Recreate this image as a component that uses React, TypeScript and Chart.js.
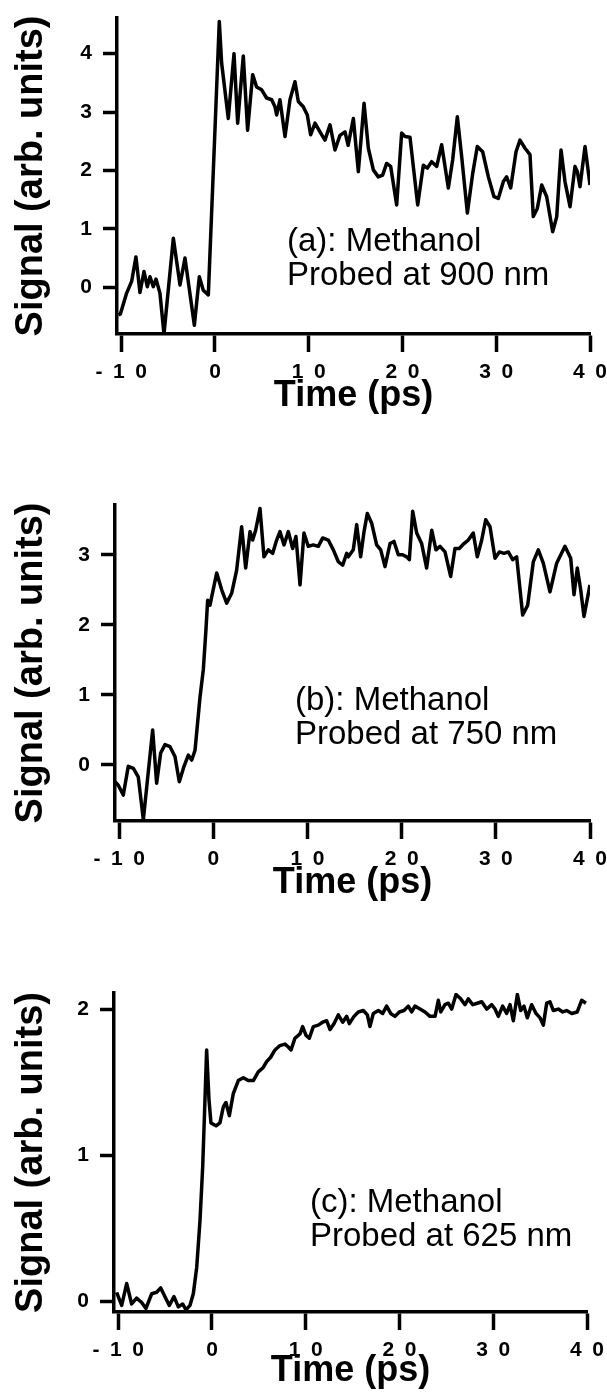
import React, { useEffect, useRef } from 'react';
import { Chart, registerables } from 'chart.js';

Chart.register(...registerables);

const FONT = '"Liberation Sans", Arial, Helvetica, sans-serif';

// ---------- Panel (a): probed at 900 nm ----------
const timeA = [
  -10.31, -10.1, -9.42, -8.89, -8.43, -8.0, -7.57, -7.22, -6.93, -6.58, -6.29, -5.87, -5.44, -4.44, -3.73,
  -3.2, -2.2, -1.67, -1.25, -0.71, 0.05, 0.46, 0.71, 1.42, 2.03, 2.42, 3.02, 3.48, 4.02, 4.44, 4.98, 5.51,
  6.05, 6.4, 6.58, 6.93, 7.47, 8.0, 8.53, 8.89, 9.42, 9.85, 10.2, 10.67, 11.2, 11.73, 12.27, 12.8, 13.33,
  13.87, 14.2, 14.76, 15.29, 15.9, 16.36, 16.89, 17.42, 17.88, 18.31, 18.74, 19.38, 19.91, 20.27, 20.8,
  21.62, 22.22, 22.65, 23.11, 23.65, 24.18, 24.89, 25.35, 25.85, 26.31, 26.92, 27.49, 27.98, 28.55, 29.16,
  29.76, 30.22, 30.76, 31.11, 31.54, 32.11, 32.53, 33.07, 33.6, 33.95, 34.38, 34.85, 35.38, 36.02, 36.45,
  36.91, 37.33, 37.87, 38.4, 38.65, 38.93, 39.47, 40.0,
];
const signalA = [
  -0.47, -0.46, -0.1, 0.1, 0.52, -0.09, 0.27, 0.01, 0.18, 0.01, 0.14, -0.1, -0.8, 0.84, 0.04,
  0.5, -0.65, 0.18, -0.05, -0.13, 2.9, 4.55, 3.84, 2.89, 4.0, 2.81, 3.96, 2.69, 3.64, 3.43, 3.38, 3.24,
  3.21, 3.09, 2.95, 3.21, 2.58, 3.21, 3.52, 3.18, 3.09, 2.95, 2.61, 2.81, 2.66, 2.52, 2.78, 2.35, 2.6,
  2.66, 2.43, 2.89, 1.98, 3.15, 2.38, 2.01, 1.89, 1.92, 2.12, 2.07, 1.41, 2.64, 2.58, 2.57,
  1.41, 2.09, 2.04, 2.15, 2.07, 2.44, 1.7, 2.18, 2.92, 2.24, 1.27, 1.95, 2.41, 2.32, 1.89,
  1.55, 1.52, 1.81, 1.89, 1.7, 2.32, 2.52, 2.38, 2.27, 1.21, 1.35, 1.75, 1.55, 0.95, 1.21,
  2.35, 1.81, 1.38, 2.07, 1.98, 1.72, 2.41, 1.75,
];

// ---------- Panel (b): probed at 750 nm ----------
const timeB = [
  -10.45, -10.1, -9.57, -9.04, -8.5, -7.98, -7.44, -6.45, -6.03, -5.6, -5.14, -4.61, -4.08, -3.62, -3.12,
  -2.66, -2.3, -1.95, -1.42, -1.07, -0.79, -0.61, -0.36, 0.35, 0.88, 1.41, 1.94, 2.47, 3.0, 3.43, 3.89,
  4.17, 4.49, 4.95, 5.37, 5.83, 6.3, 6.72, 7.07, 7.5, 7.96, 8.42, 8.77, 9.2, 9.62, 10.08, 10.61, 11.14,
  11.61, 12.2, 12.74, 13.27, 13.73, 14.16, 14.33, 14.86, 15.22, 15.64, 16.0, 16.35, 16.81, 17.34, 17.77,
  18.23, 18.76, 19.18, 19.64, 20.1, 20.53, 20.81, 21.17, 21.59, 22.12, 22.65, 23.19, 23.64, 24.07, 24.6,
  25.2, 25.66, 26.12, 26.62, 27.07, 27.6, 28.03, 28.5, 28.92, 29.38, 29.91, 30.37, 30.87, 31.32, 31.79,
  32.21, 32.85, 33.38, 33.98, 34.51, 35.04, 35.75, 36.46, 37.34, 37.95, 38.3, 38.65, 39.01, 39.36, 40.0,
];
const signalB = [
  -0.24, -0.29, -0.43, -0.02, -0.05, -0.17, -0.78, 0.5, -0.26, 0.17, 0.29, 0.26, 0.12, -0.24, -0.02,
  0.14, 0.07, 0.21, 0.97, 1.36, 1.93, 2.35, 2.28, 2.74, 2.5, 2.31, 2.45, 2.78, 3.4, 2.81, 3.33,
  3.21, 3.35, 3.66, 2.97, 3.07, 3.02, 3.21, 3.33, 3.14, 3.33, 3.09, 3.26, 2.57, 3.31, 3.12, 3.14, 3.12,
  3.24, 3.21, 3.07, 2.9, 2.85, 3.02, 2.97, 3.07, 3.43, 2.97, 3.33, 3.59, 3.45, 3.14, 3.07,
  2.83, 3.16, 3.19, 3.0, 3.0, 2.97, 2.93, 3.62, 3.31, 3.16, 2.81, 3.35, 3.07, 3.12, 3.04,
  2.69, 3.09, 3.09, 3.16, 3.21, 3.31, 2.97, 3.21, 3.5, 3.4, 2.95, 3.04, 3.02, 3.04, 2.93,
  2.97, 2.14, 2.28, 2.9, 3.07, 2.88, 2.47, 2.88, 3.12, 2.95, 2.43, 2.81, 2.5, 2.12, 2.57,
];

// ---------- Panel (c): probed at 625 nm ----------
const timeC = [
  -10.17, -9.63, -9.1, -8.57, -8.04, -7.5, -7.04, -6.43, -5.9, -5.47, -5.01, -4.55, -4.05, -3.59, -3.13,
  -2.77, -2.35, -1.99, -1.63, -1.28, -0.99, -0.82, -0.57, -0.32, -0.11, 0.43, 0.85, 1.21, 1.49, 1.85,
  2.27, 2.81, 3.34, 3.87, 4.41, 4.94, 5.47, 5.83, 6.26, 6.72, 7.25, 7.79, 8.14, 8.43, 8.85, 9.39, 9.67,
  10.03, 10.38, 10.81, 11.34, 11.8, 12.23, 12.59, 13.01, 13.47, 13.94, 14.37, 14.65, 15.15, 15.61, 16.14,
  16.57, 16.85, 17.21, 17.74, 18.21, 18.63, 19.06, 19.52, 19.98, 20.48, 20.94, 21.3, 21.65, 22.19, 22.72,
  23.25, 23.79, 24.14, 24.4, 24.85, 25.21, 25.57, 26.03, 26.53, 26.99, 27.34, 27.81, 28.3, 28.77, 29.3,
  29.84, 30.19, 30.54, 31.0, 31.43, 31.79, 32.14, 32.57, 32.93, 33.28, 33.63, 34.1, 34.56, 34.99, 35.34,
  35.7, 36.05, 36.41, 36.94, 37.41, 37.83, 38.37, 38.96, 39.43, 39.89,
];
const signalC = [
  0.06, -0.03, 0.12, -0.02, 0.02, -0.01, -0.05, 0.05, 0.06, 0.09, 0.03, -0.03, 0.03, -0.04, -0.02,
  -0.06, -0.03, 0.05, 0.23, 0.55, 0.92, 1.24, 1.72, 1.38, 1.22, 1.2, 1.22, 1.33, 1.36, 1.27,
  1.42, 1.51, 1.53, 1.51, 1.51, 1.57, 1.6, 1.64, 1.67, 1.72, 1.75, 1.76, 1.74, 1.72, 1.8, 1.83, 1.88,
  1.82, 1.8, 1.88, 1.89, 1.91, 1.92, 1.86, 1.9, 1.96, 1.91, 1.95, 1.9, 1.95, 1.98, 1.99,
  1.96, 1.88, 1.97, 1.99, 1.97, 2.02, 1.97, 1.95, 1.98, 1.99, 2.02, 1.98, 2.02, 2.0, 1.98,
  1.95, 1.95, 2.06, 1.98, 2.03, 2.04, 2.0, 2.1, 2.07, 2.03, 2.07, 2.03, 2.04, 2.05, 2.0,
  2.03, 2.0, 1.95, 2.02, 1.97, 2.03, 1.92, 2.1, 1.99, 2.02, 1.94, 2.03, 1.97, 1.94, 1.89,
  2.04, 2.05, 1.99, 2.0, 1.98, 1.99, 1.97, 1.98, 2.06, 2.04,
];

// ---------- Axis ticks and labels ----------
const xTicks = [-10, 0, 10, 20, 30, 40];
const yTicksA = [0, 1, 2, 3, 4];
const yTicksB = [0, 1, 2, 3];
const yTicksC = [0, 1, 2];
const xTitle = 'Time (ps)';
const yTitle = 'Signal (arb. units)';
const noteA = ['(a): Methanol', 'Probed at 900 nm'];
const noteB = ['(b): Methanol', 'Probed at 750 nm'];
const noteC = ['(c): Methanol', 'Probed at 625 nm'];

type PanelCfg = {
  times: number[];
  values: number[];
  yTicks: number[];
  xMin: number;
  xMax: number;
  yMin: number;
  yMax: number;
  note: string[];
  noteX: number;
  noteY: number;
  top: number;
  height: number;
  padTop: number;
  padRight: number;
  yAxisWidth: number;
  xAxisHeight: number;
};

const panels: PanelCfg[] = [
  {
    times: timeA, values: signalA, yTicks: yTicksA,
    xMin: -10.45, xMax: 40, yMin: -0.8, yMax: 4.61,
    note: noteA, noteX: 7.68, noteY: 0.62,
    top: 0, height: 418, padTop: 18, padRight: 17, yAxisWidth: 117, xAxisHeight: 84,
  },
  {
    times: timeB, values: signalB, yTicks: yTicksB,
    xMin: -10.45, xMax: 40, yMin: -0.8, yMax: 3.71,
    note: noteB, noteX: 8.67, noteY: 0.78,
    top: 418, height: 487, padTop: 87, padRight: 17, yAxisWidth: 115, xAxisHeight: 84,
  },
  {
    times: timeC, values: signalC, yTicks: yTicksC,
    xMin: -10.45, xMax: 40, yMin: -0.075, yMax: 2.11,
    note: noteC, noteX: 10.45, noteY: 0.61,
    top: 905, height: 488, padTop: 88, padRight: 20, yAxisWidth: 114, xAxisHeight: 81,
  },
];

const spaced = (v: number | string) => String(v).split('').join('\u2002');

function Panel({ cfg }: { cfg: PanelCfg }) {
  const ref = useRef<HTMLCanvasElement | null>(null);

  useEffect(() => {
    if (!ref.current) return;
    const notePlugin = {
      id: 'notePlugin',
      afterDatasetsDraw(chart: any) {
        const { ctx, scales } = chart;
        const px = scales.x.getPixelForValue(cfg.noteX);
        const py = scales.y.getPixelForValue(cfg.noteY);
        ctx.save();
        ctx.font = `33px ${FONT}`;
        ctx.fillStyle = '#000';
        ctx.textAlign = 'left';
        ctx.textBaseline = 'alphabetic';
        cfg.note.forEach((line, i) => ctx.fillText(line, px, py + i * 34));
        ctx.restore();
      },
    };

    const chart = new Chart(ref.current, {
      type: 'line',
      data: {
        datasets: [
          {
            data: cfg.times.map((t, i) => ({ x: t, y: cfg.values[i] })),
            borderColor: '#000',
            borderWidth: 3.5,
            pointRadius: 0,
            tension: 0,
            fill: false,
            borderJoinStyle: 'round',
          },
        ],
      },
      options: {
        animation: false,
        responsive: false,
        events: [],
        layout: { padding: { top: cfg.padTop, right: cfg.padRight, left: 0, bottom: 0 } },
        plugins: { legend: { display: false }, tooltip: { enabled: false }, title: { display: false } },
        scales: {
          x: {
            type: 'linear',
            min: cfg.xMin,
            max: cfg.xMax,
            afterBuildTicks: (axis: any) => {
              axis.ticks = xTicks.map((v) => ({ value: v }));
            },
            afterFit: (scale: any) => {
              scale.height = cfg.xAxisHeight;
              scale.paddingLeft = 0;
              scale.paddingRight = 0;
            },
            ticks: {
              autoSkip: false,
              maxRotation: 0,
              minRotation: 0,
              padding: 8,
              color: '#000',
              font: { family: FONT, size: 21, weight: 'bold' },
              callback: (v: any) => spaced(v),
            },
            grid: {
              display: true,
              drawOnChartArea: false,
              drawTicks: true,
              tickLength: 18,
              tickWidth: 3.5,
              tickColor: '#000',
              color: '#000',
            },
            border: { display: true, color: '#000', width: 3.5 },
            title: {
              display: true,
              text: xTitle,
              color: '#000',
              font: { family: FONT, size: 36, weight: 'bold' },
              padding: 0,
            },
          },
          y: {
            type: 'linear',
            min: cfg.yMin,
            max: cfg.yMax,
            afterBuildTicks: (axis: any) => {
              axis.ticks = cfg.yTicks.map((v) => ({ value: v }));
            },
            afterFit: (scale: any) => {
              scale.width = cfg.yAxisWidth;
              scale.paddingTop = 0;
              scale.paddingBottom = 0;
            },
            ticks: {
              autoSkip: false,
              padding: 11,
              color: '#000',
              font: { family: FONT, size: 21, weight: 'bold' },
              callback: (v: any) => String(v),
            },
            grid: {
              display: true,
              drawOnChartArea: false,
              drawTicks: true,
              tickLength: 14,
              tickWidth: 3.5,
              tickColor: '#000',
              color: '#000',
            },
            border: { display: true, color: '#000', width: 3.5 },
            title: {
              display: true,
              text: yTitle,
              color: '#000',
              font: { family: FONT, size: 38, weight: 'bold' },
              padding: { top: 9, bottom: 0 },
            },
          },
        },
      } as any,
      plugins: [notePlugin],
    });
    return () => chart.destroy();
  }, [cfg]);

  return (
    <canvas
      ref={ref}
      width={607}
      height={cfg.height}
      style={{ position: 'absolute', left: 0, top: cfg.top, width: 607, height: cfg.height }}
    />
  );
}

export default function App() {
  return (
    <div
      style={{
        position: 'absolute',
        left: 0,
        top: 0,
        width: 607,
        height: 1393,
        overflow: 'hidden',
        background: '#fff',
      }}
    >
      {panels.map((p, i) => (
        <Panel key={i} cfg={p} />
      ))}
    </div>
  );
}
